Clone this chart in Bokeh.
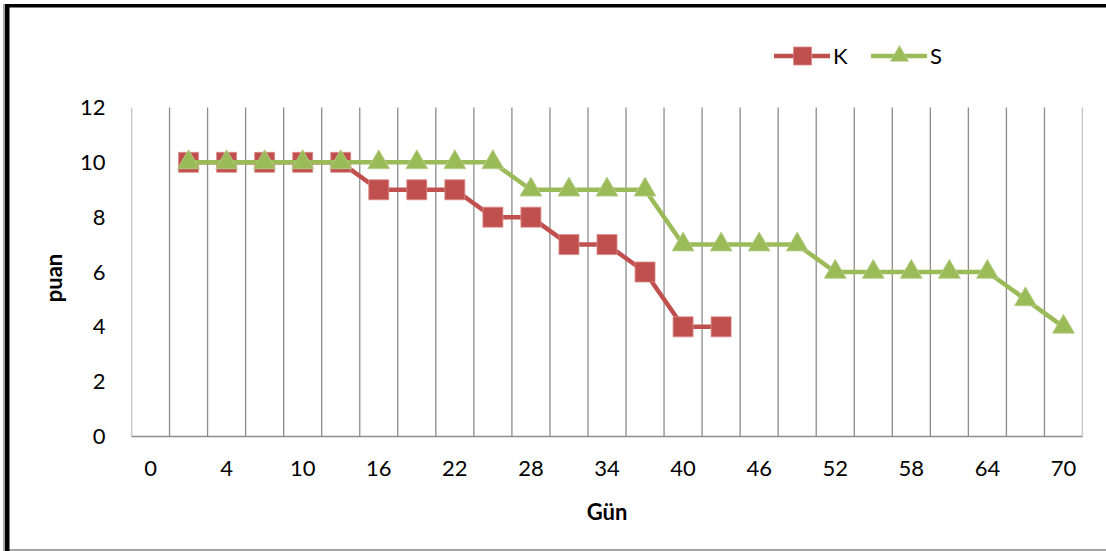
from bokeh.plotting import figure
from bokeh.models import Range1d, FixedTicker, Legend, LegendItem
from bokeh.embed import file_html
from bokeh.resources import INLINE

# ---- data ----
days = ["0", "1", "4", "7", "10", "13", "16", "19", "22", "25", "28", "31", "34",
        "37", "40", "43", "46", "49", "52", "55", "58", "61", "64", "67", "70"]
k_days = ["1", "4", "7", "10", "13", "16", "19", "22", "25", "28", "31", "34", "37", "40", "43"]
k_values = [10, 10, 10, 10, 10, 9, 9, 9, 8, 8, 7, 7, 6, 4, 4]
s_days = ["1", "4", "7", "10", "13", "16", "19", "22", "25", "28", "31", "34", "37",
          "40", "43", "46", "49", "52", "55", "58", "61", "64", "67", "70"]
s_values = [10, 10, 10, 10, 10, 10, 10, 10, 10, 9, 9, 9, 9,
            7, 7, 7, 7, 6, 6, 6, 6, 6, 5, 4]
y_ticks = [0, 2, 4, 6, 8, 10, 12]

RED = "#C0504D"
GREEN = "#9BBB59"
GRID = "#8C8C8C"
FONT = "Lato"

k_x = [days.index(d) for d in k_days]
s_x = [days.index(d) for d in s_days]

W, H = 1106, 551
# plot area of the value axis: 107 px .. 436 px; the frame is extended upward to hold the legend
FRAME_TOP, AXIS_TOP, AXIS_BOTTOM = 20, 107, 436
y_max = y_ticks[-1]
y_end = y_max * (AXIS_BOTTOM - FRAME_TOP) / (AXIS_BOTTOM - AXIS_TOP)

p = figure(width=W, height=H, output_backend="svg", toolbar_location=None,
           x_range=Range1d(-0.5, len(days) - 0.5), y_range=Range1d(0, y_end),
           min_border_left=131, min_border_right=24, min_border_top=FRAME_TOP,
           min_border_bottom=H - AXIS_BOTTOM)
p.outline_line_color = None
p.background_fill_color = "white"
p.border_fill_color = None
# chart-area border drawn as inset shadows on the host element
p.styles = {
    "background-color": "white",
    "box-shadow": ("inset 3px 0 0 0 white, inset 0 4px 0 0 white, "
                   "inset 5px 0 0 0 #A6A6A6, inset 9.5px 7.5px 0 0 black, "
                   "inset 0 -2px 0 0 #A6A6A6"),
}

# axes
p.xaxis.ticker = FixedTicker(ticks=list(range(0, len(days), 2)))
p.xaxis.major_label_overrides = {i: days[i] for i in range(0, len(days), 2)}
p.yaxis.ticker = FixedTicker(ticks=y_ticks)
for ax in (p.xaxis[0], p.yaxis[0]):
    ax.major_tick_line_color = None
    ax.minor_tick_line_color = None
    ax.major_label_text_font = FONT
    ax.major_label_text_font_size = "22px"
    ax.major_label_text_color = "black"
    ax.axis_label_text_font = FONT
    ax.axis_label_text_font_size = "22px"
    ax.axis_label_text_font_style = "bold"
    ax.axis_label_text_color = "black"
p.xaxis.axis_line_color = GRID
p.xaxis.axis_line_width = 1.5
p.yaxis.axis_line_color = None
p.xaxis.major_label_standoff = 18
p.yaxis.major_label_standoff = 20
p.xaxis.axis_label = "Gün"
# trailing em spaces keep the title centred on the value range rather than the extended frame
p.yaxis.axis_label = "puan" + "\u2003" * 6
p.xaxis.axis_label_standoff = 19
p.yaxis.axis_label_standoff = 10

# grid: vertical lines between categories, only over the value range
p.xgrid.grid_line_color = None
p.ygrid.grid_line_color = None
bounds = [i - 0.5 for i in range(len(days) + 1)]
p.segment(x0=bounds, x1=bounds, y0=[y_ticks[0]] * len(bounds), y1=[y_max] * len(bounds),
          line_color=GRID, line_width=1.3)

# series
kl = p.line(k_x, k_values, line_color=RED, line_width=4.5, line_join="round", line_cap="round")
ks = p.scatter(k_x, k_values, marker="square", size=20, fill_color=RED, line_color="#D98C8A", line_width=0.8)
sl = p.line(s_x, s_values, line_color=GREEN, line_width=4.5, line_join="round", line_cap="round")
ss = p.scatter(s_x, s_values, marker="triangle", size=22, fill_color=GREEN, line_color="#B9CF8E", line_width=0.8)

legend = Legend(items=[LegendItem(label="K", renderers=[kl, ks]),
                       LegendItem(label="S", renderers=[sl, ss])],
                orientation="horizontal", location=(643, AXIS_BOTTOM - 78),
                glyph_width=56, glyph_height=45, label_standoff=3, spacing=18,
                padding=0, margin=0, border_line_color=None, background_fill_alpha=0,
                label_text_font=FONT, label_text_font_size="22px", label_text_color="black")
p.add_layout(legend, "center")

open("out.html", "w").write(file_html(p, INLINE))
